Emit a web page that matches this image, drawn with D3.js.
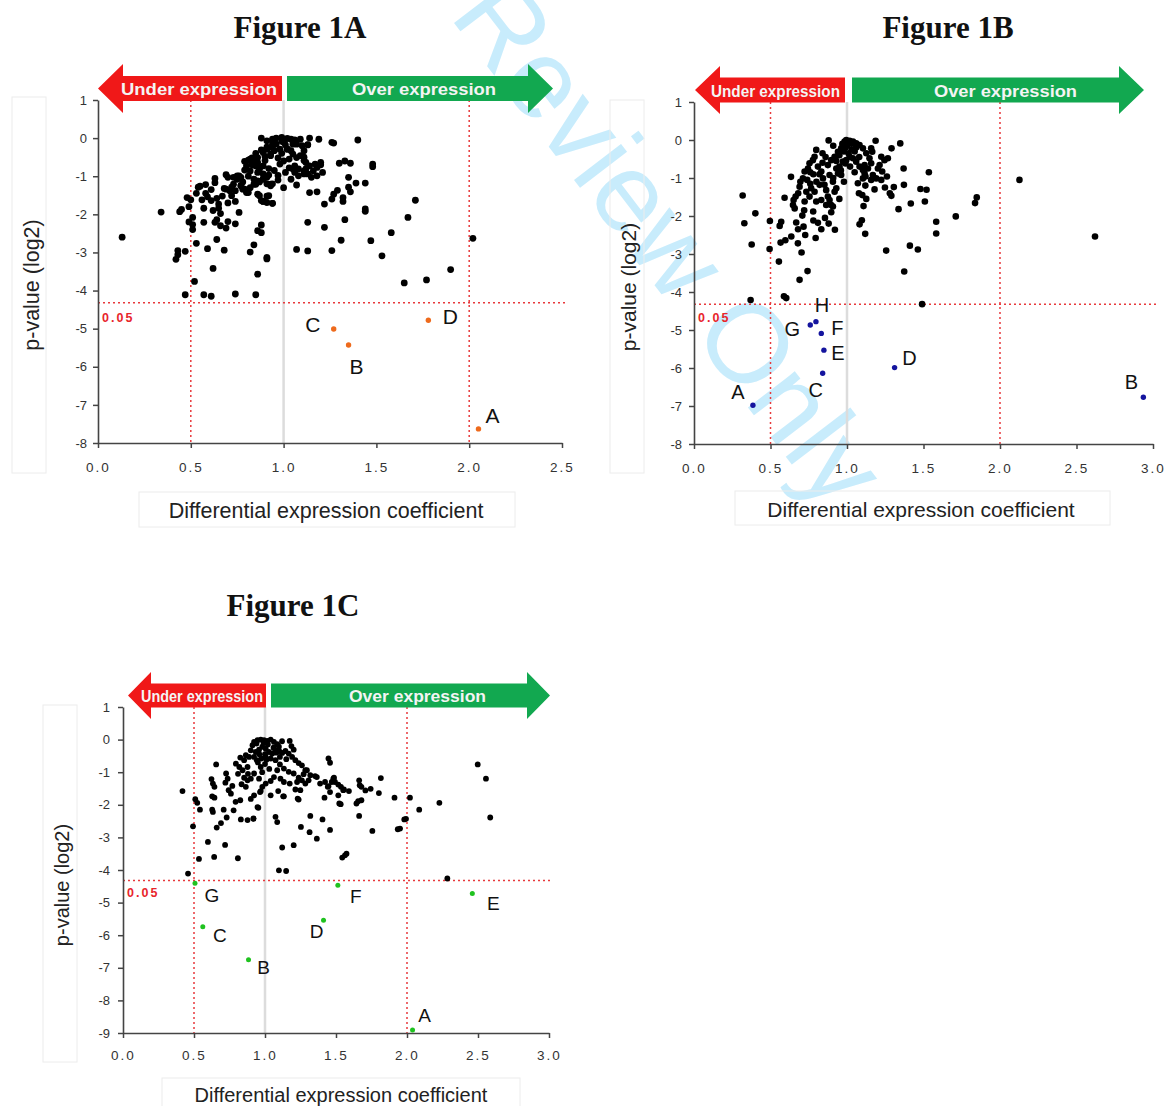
<!DOCTYPE html>
<html>
<head>
<meta charset="utf-8">
<script src="https://cdn.jsdelivr.net/npm/d3@7"></script>
<style>
  body { margin: 0; background: #fff; }
</style>
</head>
<body>
<div id="chart"></div>
<script>
// ---- data ----
const xTicksA = [0, 0.5, 1, 1.5, 2, 2.5];
const xTicksBC = [0, 0.5, 1, 1.5, 2, 2.5, 3];
const yTicksAB = [1, 0, -1, -2, -3, -4, -5, -6, -7, -8];
const yTicksC = [1, 0, -1, -2, -3, -4, -5, -6, -7, -8, -9];
const cutoff = -4.32;          // log2(0.05)
const foldLines = [0.5, 2.0];  // red dotted verticals

// Figure 1A
const pointsA = [
  [0.13,-2.60],[0.34,-1.94],[0.44,-1.93],[0.45,-1.87],[0.48,-1.56],[0.50,-1.62],[0.49,-1.80],[0.49,-2.20],
  [0.51,-2.27],[0.51,-2.40],[0.51,-2.08],[0.43,-2.95],[0.43,-3.06],[0.42,-3.18],[0.47,-2.97],[0.53,-2.76],
  [0.52,-3.76],[0.47,-4.11],[0.57,-4.11],[0.61,-4.15],[0.74,-4.09],[0.85,-4.11],[0.59,-2.90],[0.62,-3.42],
  [0.64,-2.66],[0.68,-2.94],[0.57,-2.21],[0.63,-2.21],[0.64,-2.14],[0.66,-2.30],[0.69,-2.36],[0.70,-2.19],
  [0.66,-1.98],[0.74,-2.25],[0.76,-1.95],[0.57,-1.84],[0.54,-1.29],[0.55,-1.26],[0.58,-1.22],[0.58,-1.45],
  [0.59,-1.54],[0.61,-1.64],[0.64,-1.58],[0.65,-1.73],[0.65,-1.84],[0.63,-1.06],[0.63,-1.17],[0.68,-1.32],
  [0.69,-0.96],[0.70,-1.03],[0.71,-1.38],[0.72,-1.51],[0.74,-1.66],[0.73,-1.03],[0.75,-1.08],[0.76,-0.99],
  [0.77,-1.25],[0.78,-1.34],[0.80,-1.43],[0.82,-1.30],[0.79,-0.61],[0.81,-0.58],[0.83,-0.52],[0.85,-0.73],
  [0.87,-0.77],[0.89,-0.94],[0.86,-2.43],[0.88,-2.28],[0.88,-2.48],[0.84,-2.80],[0.82,-2.99],[0.91,-3.13],
  [0.91,-3.17],[0.86,-3.57],[0.88,-1.64],[0.89,-1.66],[0.91,-1.52],[0.94,-1.71],[0.93,-1.25],[0.94,-1.20],
  [0.91,-1.20],[0.84,-1.21],[0.84,-1.08],[0.87,-1.15],[0.89,-1.07],[0.92,-0.97],[0.82,-0.55],[0.84,-0.59],
  [0.86,-0.51],[0.86,-0.64],[0.80,-0.73],[0.79,-0.84],[0.82,-0.86],[0.86,-0.90],[0.87,-0.81],[0.89,-0.73],
  [0.90,-0.59],[0.93,-0.46],[0.88,-0.31],[0.91,-0.24],[0.94,-0.16],[0.95,-0.05],[0.75,-0.99],[0.77,-1.03],
  [0.73,-1.21],[0.72,-1.29],[0.69,-1.34],[0.77,-1.25],[0.79,-1.34],[0.81,-1.43],[0.85,-1.21],[0.86,-1.12],
  [0.89,-1.08],[0.91,-1.03],[0.93,-1.21],[0.86,-1.47],[0.87,-1.51],[0.89,-1.66],[0.91,-1.69],[0.92,-1.51],
  [0.88,0.00],[0.91,-0.07],[0.94,-0.03],[0.96,0.00],[0.99,0.02],[1.02,-0.01],[1.04,-0.03],[1.05,-0.16],
  [1.00,-0.11],[0.96,-0.16],[0.94,-0.25],[0.91,-0.29],[0.89,-0.38],[0.93,-0.42],[0.95,-0.33],[0.98,-0.29],
  [1.02,-0.29],[1.04,-0.33],[1.05,-0.42],[1.07,-0.51],[1.09,-0.46],[1.11,-0.59],[1.12,-0.64],[1.14,-0.73],
  [1.16,-0.86],[1.18,-0.77],[1.20,-0.64],[1.21,-0.90],[1.13,-0.94],[1.11,-0.86],[1.08,-0.81],[1.06,-0.73],
  [1.03,-0.55],[1.09,-0.03],[1.14,0.00],[1.19,-0.03],[1.13,-0.17],[1.07,-0.16],[1.26,-0.11],[1.27,-0.13],
  [1.40,-0.05],[1.13,-0.18],[1.11,-0.33],[1.11,-0.50],[1.17,-0.68],[1.20,-0.70],[1.18,-0.99],[1.15,-1.03],
  [1.12,-0.81],[1.05,-0.81],[1.06,-0.90],[1.08,-0.99],[1.11,-0.94],[1.02,-0.29],[1.30,-0.66],[1.33,-0.60],
  [1.36,-0.66],[1.48,-0.68],[1.48,-0.75],[1.35,-1.03],[1.39,-1.18],[1.44,-1.18],[1.07,-1.23],[1.14,-1.43],
  [1.18,-1.41],[1.27,-1.47],[1.29,-1.37],[1.26,-1.60],[1.32,-1.66],[1.32,-1.56],[1.35,-1.29],[1.36,-1.41],
  [1.22,-1.73],[1.71,-1.63],[1.44,-1.92],[1.44,-1.86],[1.33,-2.14],[1.13,-2.21],[1.22,-2.34],[1.67,-2.08],
  [1.58,-2.48],[1.31,-2.68],[1.47,-2.69],[1.07,-2.92],[1.13,-2.96],[1.26,-2.95],[1.53,-3.09],[1.90,-3.45],
  [1.77,-3.72],[1.65,-3.80],[2.02,-2.63],[0.94,-1.71],[0.99,-0.40],[1.01,-0.18],[0.97,-0.52],[0.98,-0.68],
  [1.00,-0.60],[0.95,-0.85],[1.03,-0.78],[0.97,-0.98],[0.92,-0.80],[1.01,-0.90],[0.90,-0.48],[0.85,-0.40],
  [0.83,-0.70],[0.81,-1.00],[0.78,-1.15],[0.74,-1.38],[0.70,-1.70],[0.67,-1.52],[0.61,-1.35],[0.62,-1.90],
  [0.56,-1.62],[0.53,-1.45],[0.97,-1.10],[1.00,-1.30],[1.04,-1.08],[0.99,-0.08],[1.06,-0.05],[1.10,-0.20]
];
const hitNamesA = ["A", "B", "C", "D"];
const hitXA = [2.05, 1.35, 1.27, 1.78];
const hitYA = [-7.63, -5.43, -5.01, -4.78];

// Figure 1B
const pointsB = [
  [0.318,-1.46],[0.401,-1.93],[0.329,-2.19],[0.377,-2.75],[0.37,-4.21],[0.496,-2.13],[0.494,-2.87],[0.555,-3.20],
  [0.588,-4.11],[0.603,-4.16],[0.57,-2.15],[0.56,-2.26],[0.592,-1.52],[0.634,-0.97],[0.566,-2.70],[0.597,-2.64],
  [0.636,-2.54],[0.668,-2.17],[0.679,-2.72],[0.703,-2.96],[0.742,-3.45],[0.69,-3.68],[0.727,-2.50],[0.716,-2.28],
  [0.708,-1.99],[0.779,-1.88],[0.795,-2.58],[0.81,-2.18],[0.832,-2.35],[0.856,-2.05],[0.897,-1.90],[0.921,-2.36],
  [0.647,-1.71],[0.658,-1.80],[0.651,-1.58],[0.664,-1.49],[0.681,-1.40],[0.69,-1.23],[0.695,-1.10],[0.712,-1.01],
  [0.723,-0.83],[0.745,-0.75],[0.755,-0.61],[0.777,-0.53],[0.788,-0.44],[0.799,-0.26],[0.81,-0.70],[0.832,-0.83],
  [0.843,-1.01],[0.853,-1.18],[0.864,-1.32],[0.875,-1.49],[0.886,-1.58],[0.897,-1.71],[0.908,-1.75],[0.919,-1.36],
  [0.93,-1.27],[0.908,-1.10],[0.886,-0.92],[0.875,-0.66],[0.897,-0.53],[0.919,-0.44],[0.941,-0.31],[0.962,-0.22],
  [0.973,-0.13],[0.984,-0.04],[0.995,0.0],[1.017,-0.02],[1.039,-0.04],[1.06,-0.09],[1.082,-0.13],[1.104,-0.22],
  [1.126,-0.35],[1.147,-0.48],[1.158,-0.61],[1.137,-0.75],[1.115,-0.88],[1.104,-1.01],[1.071,-1.14],[1.06,-0.57],
  [1.039,-0.48],[1.017,-0.44],[0.995,-0.53],[0.973,-0.57],[0.951,-0.70],[0.941,-0.88],[0.962,-0.92],[0.93,-0.75],
  [0.766,-1.27],[0.788,-1.36],[0.821,-1.18],[0.734,-1.36],[0.723,-1.62],[0.755,-1.49],[0.799,-1.62],[0.832,-1.58],
  [0.864,-1.71],[0.88,-0.01],[1.187,-0.02],[1.348,-0.09],[1.291,-0.22],[1.158,-0.22],[1.165,-0.31],[1.224,-0.44],
  [1.245,-0.53],[1.267,-0.48],[1.213,-0.66],[1.23,-0.83],[1.202,-0.75],[1.191,-1.01],[1.224,-1.05],[1.261,-0.96],
  [1.169,-0.92],[1.158,-1.05],[1.121,-0.96],[1.104,-0.79],[1.115,-0.66],[1.082,-0.70],[1.37,-0.75],[1.372,-1.18],
  [1.306,-1.24],[1.248,-1.25],[1.535,-0.85],[1.48,-1.29],[1.52,-1.31],[1.417,-1.67],[1.509,-1.62],[1.337,-1.82],
  [1.28,-1.40],[1.29,-1.47],[1.256,-2.91],[1.411,-2.78],[1.463,-2.88],[1.374,-3.46],[1.583,-2.15],[1.583,-2.46],
  [1.078,-1.40],[1.10,-1.45],[1.126,-1.55],[1.108,-1.74],[1.097,-2.11],[1.082,-2.22],[1.119,-2.47],[1.491,-4.32],
  [1.848,-1.51],[1.837,-1.66],[1.711,-2.01],[2.127,-1.05],[2.621,-2.54],[1.0,-0.15],[0.98,-0.3],[1.03,-0.25],
  [1.05,-0.3],[0.95,-0.4],[1.01,-0.35],[0.97,-0.1],[1.06,-0.2],[0.93,-0.55],[0.99,-0.62],[1.02,-0.7],
  [0.96,-0.8],[1.08,-0.45],[0.91,-1.0],[0.84,-0.6],[0.82,-0.9],[0.8,-1.1],[0.78,-0.9],[0.76,-1.15],
  [0.74,-1.05],[0.76,-0.85],[0.86,-0.45],[0.84,-0.35],[0.99,-0.2],[1.03,-0.1],[0.91,-0.15],[0.72,-1.85],
  [0.68,-2.35],[0.78,-2.12],[0.88,-2.2],[0.95,-1.55],[0.98,-1.1],[1.05,-0.85],[1.12,-1.2],[1.18,-1.3]
];
const hitNamesB = ["A", "B", "C", "D", "E", "F", "G", "H"];
const hitXB = [0.385, 2.937, 0.841, 1.311, 0.849, 0.832, 0.760, 0.797];
const hitYB = [-6.98, -6.77, -6.14, -5.99, -5.53, -5.09, -4.87, -4.78];

// Figure 1C
const pointsC = [
  [0.419,-1.58],[0.458,-4.11],[0.493,-2.66],[0.509,-1.83],[0.523,-1.94],[0.542,-2.15],[0.535,-3.66],[0.598,-3.14],
  [0.642,-3.60],[0.628,-2.15],[0.633,-2.22],[0.656,-0.76],[0.623,-1.21],[0.633,-1.35],[0.644,-1.45],[0.628,-1.74],
  [0.644,-1.78],[0.66,-2.70],[0.69,-2.56],[0.719,-3.23],[0.709,-2.15],[0.73,-2.39],[0.726,-1.04],[0.737,-1.20],
  [0.721,-1.32],[0.744,-1.55],[0.76,-1.66],[0.77,-1.42],[0.779,-2.17],[0.793,-1.91],[0.809,-3.64],[0.826,-1.86],
  [0.83,-2.45],[0.795,-0.74],[0.819,-0.84],[0.842,-0.94],[0.853,-1.17],[0.835,-1.37],[0.865,-1.45],[0.877,-1.25],
  [0.877,-2.47],[0.919,-2.43],[0.953,-2.09],[0.9,-1.82],[0.923,-1.71],[0.965,-1.61],[0.97,-0.84],[0.888,-0.53],
  [0.9,-0.33],[0.912,-0.17],[0.923,-0.07],[0.947,-0.02],[0.97,0.0],[0.993,-0.02],[1.016,-0.04],[1.04,0.0],
  [1.063,-0.07],[1.086,-0.14],[1.098,-0.22],[1.074,-0.33],[1.051,-0.43],[1.028,-0.38],[1.005,-0.28],[0.981,-0.22],
  [0.958,-0.31],[0.935,-0.38],[0.923,-0.53],[0.942,-0.63],[0.974,-0.58],[1.005,-0.53],[1.04,-0.58],[1.074,-0.63],
  [1.105,-0.53],[1.121,-0.41],[1.144,-0.35],[1.167,-0.43],[1.191,-0.53],[1.214,-0.63],[1.237,-0.72],[1.26,-0.79],
  [1.284,-0.94],[1.272,-1.06],[1.237,-1.17],[1.202,-1.04],[1.167,-0.99],[1.133,-0.89],[1.105,-0.76],[1.086,-0.94],
  [1.063,-1.15],[1.04,-1.27],[1.005,-1.35],[0.981,-1.45],[0.958,-1.20],[0.923,-1.04],[0.9,-1.20],[0.877,-0.84],
  [0.853,-0.63],[0.826,-0.55],[0.865,-0.48],[1.174,-0.04],[1.186,-0.20],[1.202,-0.31],[1.04,-1.71],[1.074,-2.37],
  [1.086,-2.53],[1.121,-3.31],[1.202,-3.24],[1.098,-4.01],[1.149,-4.03],[1.133,-1.74],[1.174,-1.35],[1.214,-1.53],
  [1.237,-1.84],[1.253,-2.68],[1.314,-2.84],[1.319,-2.34],[1.365,-3.04],[1.458,-2.77],[1.405,-2.45],[1.419,-1.78],
  [1.447,-0.58],[1.458,-0.71],[1.319,-1.09],[1.365,-1.15],[1.423,-1.30],[1.442,-1.45],[1.481,-1.20],[1.493,-1.30],
  [1.535,-1.45],[1.516,-1.71],[1.551,-1.55],[1.523,-1.96],[1.544,-3.62],[1.563,-3.55],[1.574,-3.50],[1.663,-1.25],
  [1.667,-1.40],[1.679,-1.45],[1.707,-1.56],[1.744,-1.51],[1.816,-1.18],[1.556,-1.53],[1.591,-1.58],[1.802,-1.64],
  [1.912,-1.78],[2.021,-1.78],[2.086,-2.15],[2.228,-1.94],[2.498,-0.76],[2.556,-1.20],[2.586,-2.39],[1.981,-2.45],
  [1.993,-2.43],[1.935,-2.75],[1.951,-2.73],[1.756,-2.80],[1.663,-2.34],[1.644,-1.96],[1.656,-1.89],[1.679,-1.86],
  [1.533,-1.98],[1.486,-1.17],[1.47,-1.30],[1.447,-1.43],[1.458,-1.61],[1.516,-1.38],[1.295,-0.94],[1.353,-1.12],
  [1.388,-1.35],[1.307,-1.25],[1.284,-1.35],[1.26,-1.25],[1.226,-1.30],[1.133,-1.30],[1.109,-1.20],[1.23,-1.81],
  [1.249,-1.55],[1.128,-1.74],[1.093,-1.58],[0.97,-1.58],[0.947,-2.07],[0.919,-2.42],[2.284,-4.26],[1.02,-0.15],
  [0.99,-0.1],[1.06,-0.25],[1.0,-0.45],[0.96,-0.45],[1.1,-0.35],[1.15,-0.6],[1.12,-0.05],[0.95,-0.7],
  [1.0,-0.75],[1.03,-0.9],[0.98,-1.0],[1.08,-0.4],[0.94,-0.12],[1.01,-0.62],[0.88,-1.05],[0.81,-1.05]
];
const hitNamesC = ["A", "B", "C", "D", "E", "F", "G"];
const hitXC = [2.039, 0.884, 0.562, 1.412, 2.46, 1.513, 0.507];
const hitYC = [-8.91, -6.75, -5.74, -5.54, -4.72, -4.47, -4.41];

// ---- layout ----
const width = 1168, height = 1106;

const panels = [
  {
    title: "Figure 1A", titleX: 300, titleY: 38,
    xRange: [98, 562], yRange: [443, 100], xDomain: [0, 2.5], yDomain: [-8, 1],
    xTicks: xTicksA, yTicks: yTicksAB, tickGap: 14, labelGap: 6,
    points: pointsA, r: 3.4,
    hits: hitNamesA.map((n, i) => ({name: n, x: hitXA[i], y: hitYA[i]})),
    hitColor: "#ee6a1c", hitR: 2.7, hitFont: 21,
    offsets: [[14,-13],[8,21],[-21,-5],[22,-4]],
    arrow: {redTip: 98, redEnd: 282, greenStart: 287, greenTip: 553, cy: 88.5, head: 24.5, body: 12.5, headLen: 25,
            underX: 199, underLen: 156, overX: 424, overLen: 144, font: 17},
    yBox: [12, 97, 34, 376], yLabelX: 32, yLabelY: 285,
    xBox: [139, 492, 376, 35], xLabelX: 326, xLabelY: 511, axisFont: 21.5,
    cutLabelDy: 19
  },
  {
    title: "Figure 1B", titleX: 948, titleY: 38,
    xRange: [694, 1153], yRange: [444, 102], xDomain: [0, 3], yDomain: [-8, 1],
    xTicks: xTicksBC, yTicks: yTicksAB, tickGap: 14, labelGap: 7,
    points: pointsB, r: 3.3,
    hits: hitNamesB.map((n, i) => ({name: n, x: hitXB[i], y: hitYB[i]})),
    hitColor: "#14149e", hitR: 2.7, hitFont: 20,
    offsets: [[-15,-13],[-12,-15],[-7,17],[15,-10],[14,3],[16,-5],[-18,4],[6,-17]],
    arrow: {redTip: 695, redEnd: 845, greenStart: 852, greenTip: 1144, cy: 90, head: 24, body: 12.5, headLen: 25,
            underX: 775.5, underLen: 129, overX: 1005.5, overLen: 143, font: 17},
    yBox: [610, 100, 34, 373], yLabelX: 628, yLabelY: 287,
    xBox: [735, 491, 375, 34], xLabelX: 921, xLabelY: 509, axisFont: 21,
    cutLabelDy: 18
  },
  {
    title: "Figure 1C", titleX: 293, titleY: 616,
    xRange: [123, 549], yRange: [1033, 707], xDomain: [0, 3], yDomain: [-9, 1],
    xTicks: xTicksBC, yTicks: yTicksC, tickGap: 12, labelGap: 8,
    points: pointsC, r: 2.9,
    hits: hitNamesC.map((n, i) => ({name: n, x: hitXC[i], y: hitYC[i]})),
    hitColor: "#1fc21f", hitR: 2.5, hitFont: 19,
    offsets: [[12,-15],[15,8],[17,9],[-7,11],[21,10],[18,11],[17,12]],
    arrow: {redTip: 128, redEnd: 266, greenStart: 271, greenTip: 550, cy: 695.5, head: 23.5, body: 12, headLen: 23,
            underX: 202, underLen: 122, overX: 417.5, overLen: 137, font: 16},
    yBox: [43, 705, 34, 357], yLabelX: 62, yLabelY: 885,
    xBox: [162, 1078, 358, 30], xLabelX: 341, xLabelY: 1095, axisFont: 20,
    cutLabelDy: 17
  }
];

const svg = d3.select("#chart").append("svg")
  .attr("width", width)
  .attr("height", height)
  .style("background", "#fff")
  .style("font-family", "'Liberation Sans', Arial, sans-serif");

// review watermark, behind everything
svg.append("text")
  .attr("transform", "translate(670,242) rotate(52.6)")
  .attr("text-anchor", "middle")
  .attr("dominant-baseline", "central")
  .attr("font-size", 112)
  .attr("fill", "#c8ecfc")
  .text("Review Only");

panels.forEach(p => {
  const g = svg.append("g");

  const x = d3.scaleLinear().domain(p.xDomain).range(p.xRange);
  const y = d3.scaleLinear().domain(p.yDomain).range(p.yRange);

  // faint boxes round the axis titles
  g.append("rect")
    .attr("x", p.yBox[0]).attr("y", p.yBox[1]).attr("width", p.yBox[2]).attr("height", p.yBox[3])
    .attr("fill", "none").attr("stroke", "#ececec");
  g.append("rect")
    .attr("x", p.xBox[0]).attr("y", p.xBox[1]).attr("width", p.xBox[2]).attr("height", p.xBox[3])
    .attr("fill", "none").attr("stroke", "#ececec");

  g.append("text")
    .attr("transform", `translate(${p.yLabelX},${p.yLabelY}) rotate(-90)`)
    .attr("text-anchor", "middle").attr("dominant-baseline", "central")
    .attr("font-size", p.axisFont).attr("fill", "#222")
    .text("p-value (log2)");
  g.append("text")
    .attr("x", p.xLabelX).attr("y", p.xLabelY)
    .attr("text-anchor", "middle").attr("dominant-baseline", "central")
    .attr("font-size", p.axisFont).attr("fill", "#222")
    .text("Differential expression coefficient");

  // grey line at 1.0
  g.append("line")
    .attr("x1", x(1)).attr("x2", x(1))
    .attr("y1", y(p.yDomain[1])).attr("y2", y(p.yDomain[0]))
    .attr("stroke", "#dcdcdc").attr("stroke-width", 2.5);

  // red dotted thresholds
  g.selectAll(".vfold").data(foldLines).enter().append("line")
    .attr("x1", d => x(d)).attr("x2", d => x(d))
    .attr("y1", y(p.yDomain[1])).attr("y2", y(p.yDomain[0]))
    .attr("stroke", "#e8393c").attr("stroke-width", 1.5).attr("stroke-dasharray", "2,3");
  g.append("line")
    .attr("x1", x(0)).attr("x2", x(p.xDomain[1]) + 4)
    .attr("y1", y(cutoff)).attr("y2", y(cutoff))
    .attr("stroke", "#e8393c").attr("stroke-width", 1.5).attr("stroke-dasharray", "2,3");
  g.append("text")
    .attr("x", x(0) + 4).attr("y", y(cutoff) + p.cutLabelDy)
    .attr("font-size", 12.5).attr("font-weight", "bold").attr("letter-spacing", "2px")
    .attr("fill", "#e8252b")
    .text("0.05");

  // axes
  const xAxis = g.append("g")
    .attr("transform", `translate(0,${p.yRange[0]})`)
    .call(d3.axisBottom(x).tickValues(p.xTicks).tickFormat(d3.format(".1f"))
      .tickSize(5).tickSizeOuter(0).tickPadding(p.tickGap));
  const yAxis = g.append("g")
    .attr("transform", `translate(${p.xRange[0]},0)`)
    .call(d3.axisLeft(y).tickValues(p.yTicks).tickFormat(d => String(d))
      .tickSize(5).tickSizeOuter(0).tickPadding(p.labelGap));
  [xAxis, yAxis].forEach(a => {
    a.select(".domain").attr("stroke", "#444").attr("stroke-width", 1.6);
    a.selectAll(".tick line").attr("stroke", "#444").attr("stroke-width", 1.5);
    a.selectAll("text").attr("fill", "#333").attr("font-family", "'Liberation Sans', Arial, sans-serif");
  });
  xAxis.selectAll("text").attr("font-size", 13.5).attr("letter-spacing", "2px");
  yAxis.selectAll("text").attr("font-size", 13);

  // black points
  g.append("g").selectAll("circle").data(p.points).enter().append("circle")
    .attr("cx", d => x(d[0])).attr("cy", d => y(d[1]))
    .attr("r", p.r).attr("fill", "#000");

  // highlighted points and their letters
  g.append("g").selectAll("circle").data(p.hits).enter().append("circle")
    .attr("cx", d => x(d.x)).attr("cy", d => y(d.y))
    .attr("r", p.hitR).attr("fill", p.hitColor);
  g.append("g").selectAll("text").data(p.hits).enter().append("text")
    .attr("x", (d, i) => x(d.x) + p.offsets[i][0])
    .attr("y", (d, i) => y(d.y) + p.offsets[i][1])
    .attr("text-anchor", "middle").attr("dominant-baseline", "central")
    .attr("font-size", p.hitFont).attr("fill", "#111")
    .text(d => d.name);

  // under / over expression arrows
  const a = p.arrow;
  const red = [
    [a.redTip, a.cy], [a.redTip + a.headLen, a.cy - a.head], [a.redTip + a.headLen, a.cy - a.body],
    [a.redEnd, a.cy - a.body], [a.redEnd, a.cy + a.body], [a.redTip + a.headLen, a.cy + a.body],
    [a.redTip + a.headLen, a.cy + a.head]
  ];
  const green = [
    [a.greenTip, a.cy], [a.greenTip - a.headLen, a.cy - a.head], [a.greenTip - a.headLen, a.cy - a.body],
    [a.greenStart, a.cy - a.body], [a.greenStart, a.cy + a.body], [a.greenTip - a.headLen, a.cy + a.body],
    [a.greenTip - a.headLen, a.cy + a.head]
  ];
  g.append("polygon").attr("points", red.join(" ")).attr("fill", "#f01818");
  g.append("polygon").attr("points", green.join(" ")).attr("fill", "#12a850");
  g.append("text")
    .attr("x", a.underX).attr("y", a.cy + 1)
    .attr("text-anchor", "middle").attr("dominant-baseline", "central")
    .attr("font-size", a.font).attr("font-weight", "bold").attr("fill", "#f4f4f4")
    .attr("textLength", a.underLen).attr("lengthAdjust", "spacingAndGlyphs")
    .text("Under expression");
  g.append("text")
    .attr("x", a.overX).attr("y", a.cy + 1)
    .attr("text-anchor", "middle").attr("dominant-baseline", "central")
    .attr("font-size", a.font).attr("font-weight", "bold").attr("fill", "#f4f4f4")
    .attr("textLength", a.overLen).attr("lengthAdjust", "spacingAndGlyphs")
    .text("Over expression");

  // panel title
  g.append("text")
    .attr("x", p.titleX).attr("y", p.titleY)
    .attr("text-anchor", "middle")
    .attr("font-family", "'Liberation Serif', 'Times New Roman', serif")
    .attr("font-size", 31).attr("font-weight", "bold").attr("fill", "#111")
    .text(p.title);
});
</script>
</body>
</html>
